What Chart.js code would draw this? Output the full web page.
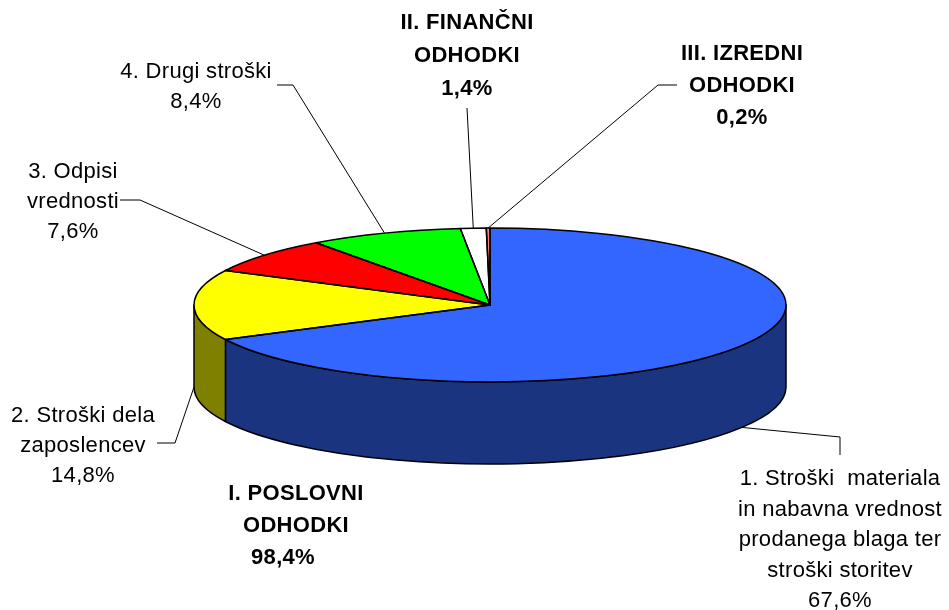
<!DOCTYPE html>
<html>
<head>
<meta charset="utf-8">
<script src="https://cdn.jsdelivr.net/npm/chart.js@4/dist/chart.umd.min.js"></script>
<style>
  html, body { margin: 0; padding: 0; background: #fff; }
  #wrap { width: 949px; height: 610px; }
</style>
</head>
<body>
<div id="wrap"><canvas id="pieChart" width="949" height="610"></canvas></div>
<script>
// ---- data ----
const categories = [
  '1. Stroški materiala in nabavna vrednost prodanega blaga ter stroški storitev',
  '2. Stroški dela zaposlencev',
  '3. Odpisi vrednosti',
  '4. Drugi stroški',
  'II. FINANČNI ODHODKI',
  'III. IZREDNI ODHODKI'
];
const shares = [67.6, 14.8, 7.6, 8.4, 1.4, 0.2];
const labelLines = [
  ['1. Stroški  materiala', 'in nabavna vrednost', 'prodanega blaga ter', 'stroški storitev'],
  ['2. Stroški dela', 'zaposlencev'],
  ['3. Odpisi', 'vrednosti'],
  ['4. Drugi stroški'],
  ['II. FINANČNI', 'ODHODKI'],
  ['III. IZREDNI', 'ODHODKI']
];
const groupLines = ['I. POSLOVNI', 'ODHODKI'];
const groupMembers = [0, 1, 2, 3];

// ---- styles ----
const topColors = ['#3366FF', '#FFFF00', '#FF0000', '#00FF00', '#FFFFFF', '#FF8080'];
const sideColors = ['#1B3480', '#808000', '#800000', '#008000', '#808080', '#804040'];
const TILT = 0.26;     // vertical squash of the pie top
const DEPTH = 82;      // height of the pie wall
const FONT = '"Liberation Sans", Arial, sans-serif';

// label placement: text centre x, first line y, line height, leader elbow/end
const labelPos = [
  { x: 840, y: 479, lh: 30.5, bold: false, path: [[840, 437], [840, 455]] },
  { x: 83, y: 416, lh: 30, bold: false, path: [[175, 443], [157, 443]] },
  { x: 73, y: 172, lh: 30, bold: false, path: [[140, 200], [120, 200]] },
  { x: 196, y: 72, lh: 30, bold: false, path: [[293, 85], [277, 85]] },
  { x: 467, y: 23, lh: 33, bold: true, path: [[467, 108]] },
  { x: 742, y: 54, lh: 32, bold: true, path: [[658, 85], [677, 85]] }
];
const groupPos = { x: 296, y: 494, lh: 32, lastDx: -13 };

const fmt = v => v.toFixed(1).replace('.', ',') + '%';

function drawLines(ctx, lines, x, y, lh, bold, lastDx) {
  ctx.font = (bold ? 'bold ' : '') + '22px ' + FONT;
  ctx.fillStyle = '#000';
  ctx.textAlign = 'center';
  ctx.textBaseline = 'middle';
  lines.forEach((t, i) => {
    const dx = (i === lines.length - 1 && lastDx) ? lastDx : 0;
    ctx.fillText(t, x + dx, y + i * lh);
  });
}

const pie3d = {
  id: 'pie3d',
  beforeDatasetsDraw(chart) {
    const ctx = chart.ctx;
    const arcs = chart.getDatasetMeta(0).data;
    const cx = arcs[0].x, cy = arcs[0].y;
    const rx = arcs[0].outerRadius, ry = rx * TILT;
    // walls of the front half
    ctx.save();
    ctx.lineWidth = 1.5;
    ctx.strokeStyle = '#000';
    ctx.lineJoin = 'round';
    arcs.forEach((a, i) => {
      [[0, Math.PI], [2 * Math.PI, 3 * Math.PI]].forEach(([lo, hi]) => {
        const s = Math.max(a.startAngle, lo), e = Math.min(a.endAngle, hi);
        if (e <= s) return;
        ctx.beginPath();
        ctx.ellipse(cx, cy, rx, ry, 0, s, e);
        ctx.lineTo(cx + rx * Math.cos(e), cy + ry * Math.sin(e) + DEPTH);
        ctx.ellipse(cx, cy + DEPTH, rx, ry, 0, e, s, true);
        ctx.closePath();
        ctx.fillStyle = sideColors[i];
        ctx.fill();
        ctx.stroke();
      });
    });
    ctx.restore();
    // squash the top face
    ctx.save();
    ctx.translate(0, cy);
    ctx.scale(1, TILT);
    ctx.translate(0, -cy);
  },
  afterDatasetsDraw(chart) {
    const ctx = chart.ctx;
    ctx.restore();
    const arcs = chart.getDatasetMeta(0).data;
    const cx = arcs[0].x, cy = arcs[0].y;
    const rx = arcs[0].outerRadius, ry = rx * TILT;
    ctx.save();
    ctx.lineWidth = 1.5;
    ctx.strokeStyle = '#000';
    ctx.lineJoin = 'round';
    arcs.forEach(a => {
      ctx.beginPath();
      ctx.moveTo(cx, cy);
      ctx.ellipse(cx, cy, rx, ry, 0, a.startAngle, a.endAngle);
      ctx.closePath();
      ctx.stroke();
    });
    ctx.restore();
  },
  afterDraw(chart) {
    const ctx = chart.ctx;
    const arcs = chart.getDatasetMeta(0).data;
    const cx = arcs[0].x, cy = arcs[0].y;
    const rx = arcs[0].outerRadius, ry = rx * TILT;
    ctx.save();
    // leader lines
    ctx.strokeStyle = '#000';
    ctx.lineWidth = 1;
    arcs.forEach((a, i) => {
      const mid = (a.startAngle + a.endAngle) / 2;
      let px = cx + rx * Math.cos(mid), py = cy + ry * Math.sin(mid);
      if (Math.sin(mid) > -0.05) py += DEPTH;
      ctx.beginPath();
      ctx.moveTo(px, py);
      labelPos[i].path.forEach(p => ctx.lineTo(p[0], p[1]));
      ctx.stroke();
    });
    // labels
    ctx.letterSpacing = '0.3px';
    labelLines.forEach((lines, i) => {
      const p = labelPos[i];
      drawLines(ctx, lines.concat(fmt(shares[i])), p.x, p.y, p.lh, p.bold, 0);
    });
    const groupTotal = groupMembers.reduce((s, i) => s + shares[i], 0);
    drawLines(ctx, groupLines.concat(fmt(groupTotal)), groupPos.x, groupPos.y, groupPos.lh, true, groupPos.lastDx);
    ctx.restore();
  }
};

new Chart(document.getElementById('pieChart'), {
  type: 'pie',
  data: {
    labels: categories,
    datasets: [{
      data: shares,
      backgroundColor: topColors,
      borderWidth: 0
    }]
  },
  options: {
    responsive: false,
    animation: false,
    events: [],
    layout: { padding: { left: 31, right: 0, top: 9, bottom: 9 } },
    plugins: {
      legend: { display: false },
      tooltip: { enabled: false },
      title: { display: false }
    }
  },
  plugins: [pie3d]
});
</script>
</body>
</html>
